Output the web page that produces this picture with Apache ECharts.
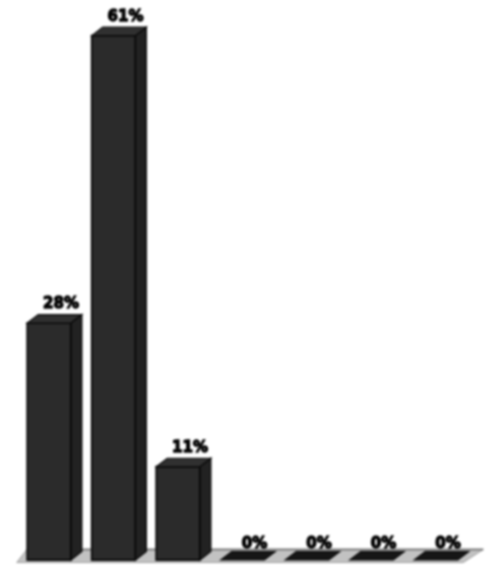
<!DOCTYPE html>
<html><head><meta charset="utf-8">
<style>html,body{margin:0;padding:0;background:#fff}#c{width:488px;height:565px;filter:blur(0.8px)}</style>
<script src="https://cdn.jsdelivr.net/npm/echarts@6/dist/echarts.min.js"></script>
</head><body><div id="c"></div>
<script>
const categories = ['A','B','C','D','E','F','G'];
const percentValues = [27.7, 61.3, 10.9, 0, 0, 0, 0];
const floorCells = [0];

const chart = echarts.init(document.getElementById('c'), null, {renderer:'canvas'});
const DX = 11, DY = 8.5;

function renderFloor(params, api){
  const first = api.coord([0, 0]);
  const last = api.coord([categories.length - 1, 0]);
  const band = api.size([1, 0])[0];
  const l = first[0] - band/2, r = last[0] + band/2 + 5, b = first[1] + 2.5;
  return {type:'group', children:[
    {type:'polygon', shape:{points:[[l,b],[r-10,b],[r+10,b-13],[l+10,b-13]]},
     style:{fill:'#c2c2c2', stroke:'#a0a0a0', lineWidth:1}},
    {type:'line', shape:{x1:l+10,y1:b-13,x2:r+10,y2:b-13},
     style:{stroke:'#7d7d7d', lineWidth:2}}
  ]};
}
function renderBar(params, api){
  const idx = api.value(0), v = api.value(1);
  const base = api.coord([idx, 0]), top = api.coord([idx, v]);
  const w = api.size([1, 0])[0] * 0.675;
  const x0 = base[0] - w/2, x1 = base[0] + w/2, yb = base[1], yt = top[1];
  const kids = [];
  if (v > 0) {
    kids.push({type:'polygon', shape:{points:[[x1,yt],[x1+DX,yt-DY],[x1+DX,yb-DY],[x1,yb]]},
      style:{fill:'#222222', stroke:'#0a0a0a', lineWidth:1.4}});
    kids.push({type:'rect', shape:{x:x0,y:yt,width:w,height:yb-yt},
      style:{fill:'#2b2b2b', stroke:'#0a0a0a', lineWidth:1.8}});
  }
  kids.push({type:'polygon', shape:{points:[[x0,yt],[x0+DX,yt-DY],[x1+DX,yt-DY],[x1,yt]]},
    style:{fill: v > 0 ? '#303030' : '#161616', stroke:'#0a0a0a', lineWidth:1.2}});
  kids.push({type:'text', style:{
    x: base[0] + 12, y: yt - (v > 0 ? 18.5 : 15.5),
    text: Math.round(v) + '%', align:'center', verticalAlign:'middle',
    font:'bold 15px "DejaVu Sans"', fill:'#000', stroke:'#000', lineWidth:1.3
  }});
  return {type:'group', children:kids};
}
chart.setOption({
  animation:false,
  backgroundColor:'#fff',
  grid:{left:16.75, width:451.5, top:4, height:556},
  xAxis:{type:'category', data:categories, show:false},
  yAxis:{type:'value', min:0, max:65, show:false},
  series:[
    {type:'custom', renderItem:renderFloor, data:floorCells.map(i=>[i,0]), encode:{x:0,y:1}, silent:true, z:1},
    {type:'custom', renderItem:renderBar, data:percentValues.map((v,i)=>[i,v]), encode:{x:0,y:1}, z:2}
  ]
});
</script></body></html>
